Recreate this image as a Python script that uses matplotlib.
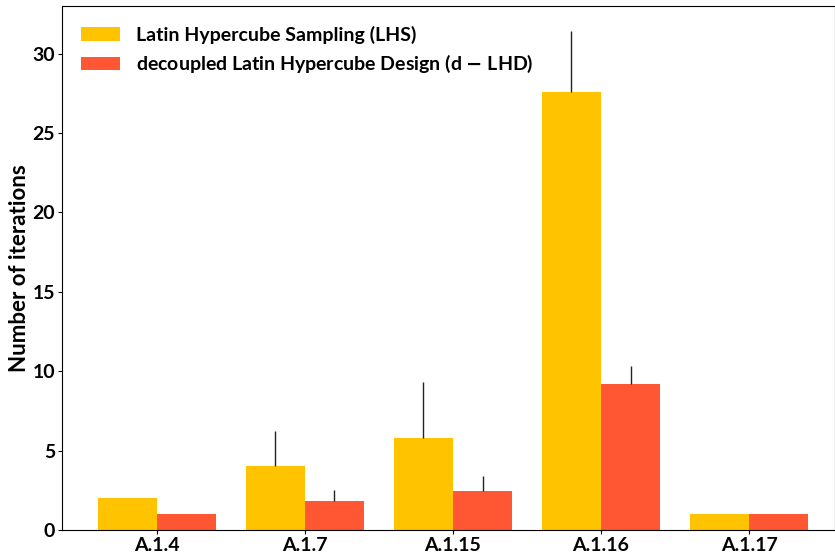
import numpy as np
import matplotlib.pyplot as plt

plt.rcParams['font.family'] = ['Lato', 'DejaVu Sans']
plt.rcParams['font.weight'] = 'bold'

cases = ['A.1.4', 'A.1.7', 'A.1.15', 'A.1.16', 'A.1.17']
lhs_mean = [2.0, 4.0, 5.8, 27.6, 1.0]
lhs_err = [0.0, 2.25, 3.5, 3.8, 0.0]
dlhd_mean = [1.0, 1.8, 2.45, 9.2, 1.0]
dlhd_err = [0.0, 0.7, 0.95, 1.1, 0.0]

x = np.arange(len(cases))
w = 0.4

fig = plt.figure(figsize=(8.35, 5.56), dpi=100)
ax = fig.add_axes([62/835, 26/556, 773/835, 524/556])

ax.bar(x - w/2, lhs_mean, w, color='#FFC300', label='Latin Hypercube Sampling (LHS)',
       yerr=[np.zeros(len(x)), lhs_err], error_kw=dict(ecolor='#222222', elinewidth=1, capsize=0))
ax.bar(x + w/2, dlhd_mean, w, color='#FF5733', label='decoupled Latin Hypercube Design (d $-$ LHD)',
       yerr=[np.zeros(len(x)), dlhd_err], error_kw=dict(ecolor='#222222', elinewidth=1, capsize=0))

ax.set_xticks(x)
ax.set_xticklabels(cases, fontsize=14, fontweight='bold')
ax.set_xlim(-0.64, 4.58)
ax.set_ylim(0, 33)
ax.set_yticks([0, 5, 10, 15, 20, 25, 30])
ax.tick_params(axis='y', labelsize=14, length=3, pad=2)
ax.tick_params(axis='x', length=3, pad=2)
ax.set_ylabel('Number of iterations', fontsize=16, fontweight='bold', labelpad=2)
ax.legend(loc='upper left', frameon=False, fontsize=14, handlelength=2.0, handleheight=0.72,
          borderaxespad=0.6, handletextpad=0.8)

fig.savefig('out.png', dpi=100)
